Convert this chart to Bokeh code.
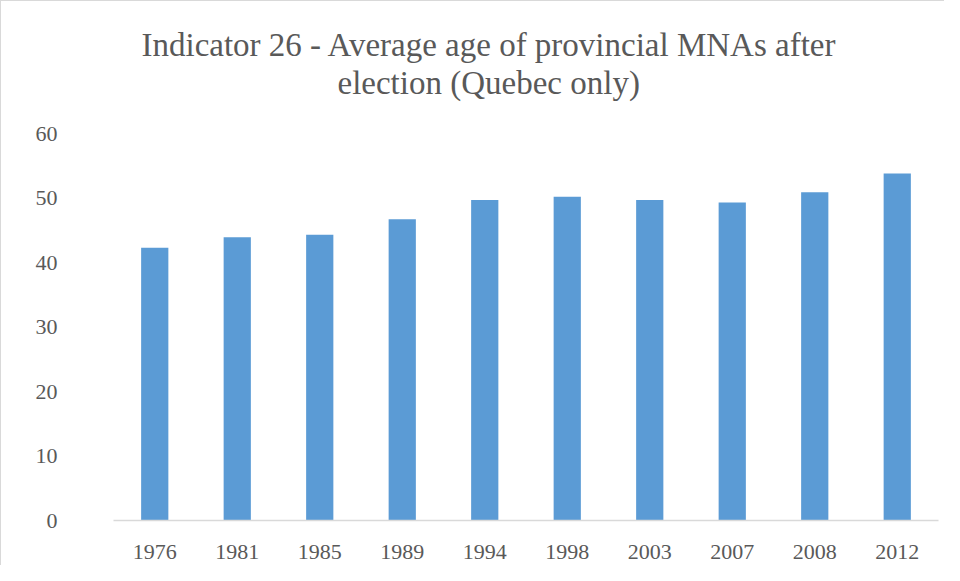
from bokeh.plotting import figure
from bokeh.models import Title, FactorRange, Range1d, ColumnDataSource
from bokeh.embed import file_html
from bokeh.resources import INLINE

years = ["1976", "1981", "1985", "1989", "1994", "1998", "2003", "2007", "2008", "2012"]
avg_age = [42.3, 43.9, 44.3, 46.7, 49.7, 50.2, 49.7, 49.3, 50.9, 53.8]
y_ticks = [0, 10, 20, 30, 40, 50, 60]
title_lines = ["Indicator 26  - Average age of provincial MNAs after", "election (Quebec only)"]

TEXT = "#595959"
FONT = "Liberation Serif"

src = ColumnDataSource(data=dict(year=years, age=avg_age))

p = figure(width=944, height=565, x_range=FactorRange(*years, range_padding=0),
           y_range=Range1d(0, 60), output_backend="svg", toolbar_location=None,
           min_border_left=112, min_border_right=7, min_border_top=132, min_border_bottom=46)

p.vbar(x="year", top="age", width=0.33, source=src, color="#5B9BD5", line_color=None)

# spacer between the title block and the plot area
p.add_layout(Title(text=" ", align="left", standoff=0, text_font=FONT,
                   text_font_size="28px", text_color="white"), "above")
p.add_layout(Title(text=title_lines[1], align="left", offset=224, standoff=0,
                   text_font=FONT, text_font_size="33px", text_font_style="normal",
                   text_color=TEXT), "above")
p.add_layout(Title(text=title_lines[0], align="left", offset=28, standoff=0,
                   text_font=FONT, text_font_size="33px", text_font_style="normal",
                   text_color=TEXT), "above")

p.outline_line_color = None
p.xgrid.grid_line_color = None
p.ygrid.grid_line_color = None

p.yaxis.ticker = y_ticks
p.yaxis.axis_line_color = None
p.yaxis.major_tick_line_color = None
p.yaxis.minor_tick_line_color = None
p.yaxis.major_label_text_font = FONT
p.yaxis.major_label_text_font_size = "22px"
p.yaxis.major_label_text_color = TEXT
p.yaxis.major_label_standoff = 50

p.xaxis.axis_line_color = "#D9D9D9"
p.xaxis.axis_line_width = 1.5
p.xaxis.major_tick_line_color = None
p.xaxis.minor_tick_line_color = None
p.xaxis.major_label_text_font = FONT
p.xaxis.major_label_text_font_size = "22px"
p.xaxis.major_label_text_color = TEXT
p.xaxis.major_label_standoff = 18

p.styles = {"border-top": "1px solid #D9D9D9", "border-left": "1px solid #D9D9D9"}

open("out.html", "w").write(file_html(p, INLINE))
